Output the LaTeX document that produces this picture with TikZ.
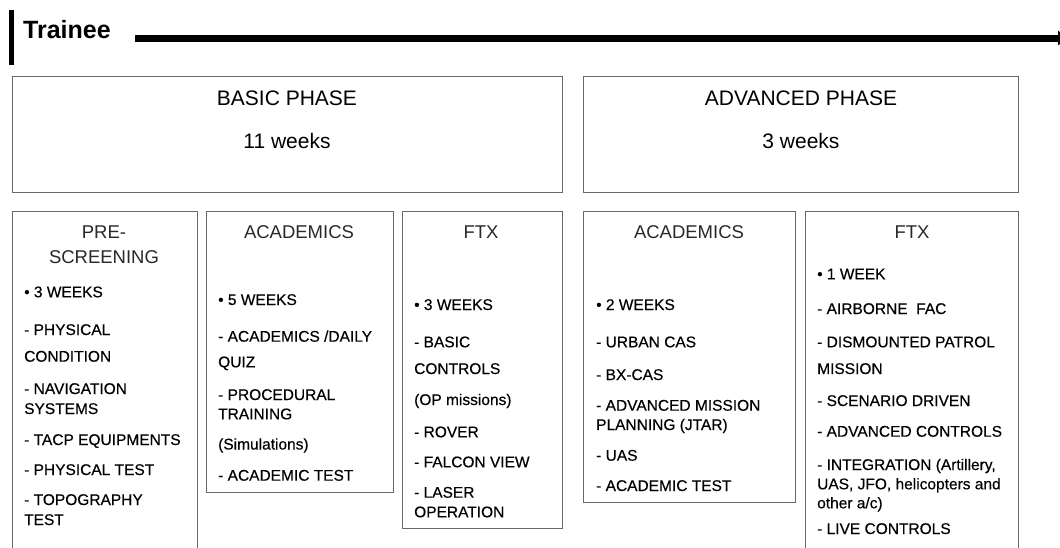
\documentclass[tikz,border=0pt]{standalone}
\usepackage{fontspec}
\setmainfont{Liberation Sans}
\newfontfamily\itemfont[FakeBold = 0.35]{Liberation Sans}
\usepackage{tikz}
\usetikzlibrary{arrows.meta}
\definecolor{boxgray}{RGB}{105, 105, 105}
\definecolor{titlegray}{RGB}{40, 40, 40}

\tikzset{
	box/.style = {draw = boxgray, line width = 0.9pt, anchor = north west, inner sep = 0},
	phasetext/.style = {anchor = base, inner sep = 0, font = \fontsize{21}{24}\selectfont},
	coltitle/.style = {anchor = base, inner sep = 0, text = titlegray, font = \fontsize{18.5}{21}\selectfont},
	item/.style = {anchor = base west, inner sep = 0, font = \itemfont\fontsize{15.5}{17}\selectfont}
}

\begin{document}
\begin{tikzpicture}[x = 1pt, y = -1pt]
			\useasboundingbox (0,0) rectangle (1060,547);
			% header
			\node (tr) at (23,38.3) [anchor = base west, inner sep = 0, font = \fontsize{25}{28}\selectfont\bfseries] {Trainee};
			\coordinate (bt) at (11,10);
			\coordinate (bb) at (11,65);
			\coordinate (ls) at (135,38);
			\coordinate (le) at (1068,38);
			\draw [line width = 5pt] (bt) -- (bb);
			\draw [line width = 7pt, -{Triangle[length = 10pt, width = 14pt]}] (ls) -- (le);
			% phases
			\node (bp) at (12,76) [box, minimum width = 550, minimum height = 116] {};
			\node (ap) at (583,76) [box, minimum width = 435, minimum height = 116] {};
			\node (bpt) at (287,105.7) [phasetext] {BASIC PHASE};
			\node (bpw) at (287,148.3) [phasetext] {11 weeks};
			\node (apt) at (801,105.7) [phasetext] {ADVANCED PHASE};
			\node (apw) at (801,148.3) [phasetext] {3 weeks};
			% columns
			\node (ps) at (12,211) [box, minimum width = 185, minimum height = 350] {};
			\node (ab) at (206,211) [box, minimum width = 187, minimum height = 281] {};
			\node (fb) at (402,211) [box, minimum width = 160, minimum height = 317] {};
			\node (aa) at (583,211) [box, minimum width = 212, minimum height = 291] {};
			\node (fa) at (805,211) [box, minimum width = 213, minimum height = 350] {};
			% pre-screening
			\node (p0) at (104,238.3) [coltitle] {PRE-};
			\node (p00) at (104,263) [coltitle] {SCREENING};
			\node (p1) at (24,297.3) [item] {• 3 WEEKS};
			\node (p2) at (24,335) [item] {- PHYSICAL};
			\node (p3) at (24,361.7) [item] {CONDITION};
			\node (p4) at (24,394) [item] {- NAVIGATION};
			\node (p5) at (24,414) [item] {SYSTEMS};
			\node (p6) at (24,445) [item] {- TACP EQUIPMENTS};
			\node (p7) at (24,475) [item] {- PHYSICAL TEST};
			\node (p8) at (24,505) [item] {- TOPOGRAPHY};
			\node (p9) at (24,525) [item] {TEST};
			% basic academics
			\node (b0) at (299,238.3) [coltitle] {ACADEMICS};
			\node (b1) at (218,305) [item] {• 5 WEEKS};
			\node (b2) at (218,341.7) [item] {- ACADEMICS /DAILY};
			\node (b3) at (218,367.3) [item] {QUIZ};
			\node (b4) at (218,400) [item] {- PROCEDURAL};
			\node (b5) at (218,419.3) [item] {TRAINING};
			\node (b6) at (218,449.5) [item] {(Simulations)};
			\node (b7) at (218,480.7) [item] {- ACADEMIC TEST};
			% basic ftx
			\node (f0) at (481,238.3) [coltitle] {FTX};
			\node (f1) at (414,310) [item] {• 3 WEEKS};
			\node (f2) at (414,347.3) [item] {- BASIC};
			\node (f3) at (414,374) [item] {CONTROLS};
			\node (f4) at (414,405) [item] {(OP missions)};
			\node (f5) at (414,437.3) [item] {- ROVER};
			\node (f6) at (414,467.3) [item] {- FALCON VIEW};
			\node (f7) at (414,497.7) [item] {- LASER};
			\node (f8) at (414,517.3) [item] {OPERATION};
			% advanced academics
			\node (c0) at (689,238.3) [coltitle] {ACADEMICS};
			\node (c1) at (596,310) [item] {• 2 WEEKS};
			\node (c2) at (596,347.3) [item] {- URBAN CAS};
			\node (c3) at (596,380) [item] {- BX-CAS};
			\node (c4) at (596,410.7) [item] {- ADVANCED MISSION};
			\node (c5) at (596,430) [item] {PLANNING (JTAR)};
			\node (c6) at (596,460.7) [item] {- UAS};
			\node (c7) at (596,491) [item] {- ACADEMIC TEST};
			% advanced ftx
			\node (g0) at (912,238.3) [coltitle] {FTX};
			\node (g1) at (817,279.3) [item] {• 1 WEEK};
			\node (g2) at (817,314) [item] {- AIRBORNE\ \ FAC};
			\node (g3) at (817,347.3) [item] {- DISMOUNTED PATROL};
			\node (g4) at (817,374) [item] {MISSION};
			\node (g5) at (817,406) [item] {- SCENARIO DRIVEN};
			\node (g6) at (817,436.7) [item] {- ADVANCED CONTROLS};
			\node (g7) at (817,470) [item] {- INTEGRATION (Artillery,};
			\node (g8) at (817,489.3) [item] {UAS, JFO, helicopters and};
			\node (g9) at (817,508.3) [item] {other a/c)};
			\node (g10) at (817,534) [item] {- LIVE CONTROLS};
			\end{tikzpicture}
\end{document}
